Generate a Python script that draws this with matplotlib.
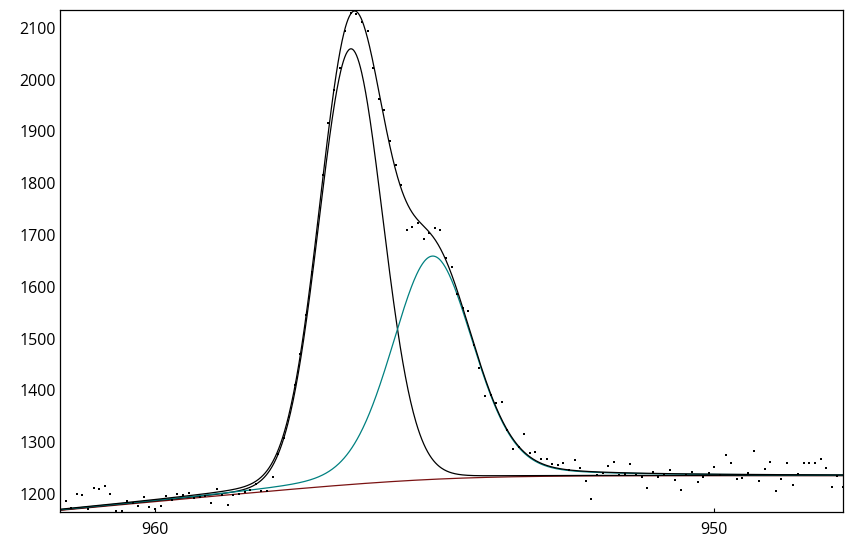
import numpy as np
import matplotlib
matplotlib.use("Agg")
import matplotlib.pyplot as plt

# measured points (binding energy grid, 0.1 eV step, counts)
binding_energy = np.linspace(961.7, 947.7, 141)
counts = [
    1172, 1186, 1173, 1201, 1199, 1172, 1212, 1210, 1216, 1201,
    1167, 1168, 1187, 1183, 1177, 1195, 1175, 1171, 1177, 1196,
    1189, 1200, 1199, 1202, 1192, 1195, 1196, 1183, 1210, 1199,
    1179, 1199, 1200, 1204, 1207, 1219, 1205, 1205, 1232, 1277,
    1309, 1349, 1410, 1470, 1545, 1628, 1703, 1815, 1917, 1979,
    2023, 2094, 2129, 2127, 2112, 2093, 2023, 1963, 1941, 1882,
    1836, 1797, 1709, 1716, 1724, 1693, 1704, 1714, 1709, 1655,
    1639, 1587, 1560, 1553, 1488, 1443, 1390, 1392, 1376, 1378,
    1324, 1287, 1291, 1315, 1280, 1282, 1268, 1268, 1258, 1256,
    1260, 1246, 1266, 1251, 1226, 1191, 1237, 1240, 1254, 1262,
    1236, 1238, 1257, 1237, 1232, 1212, 1243, 1232, 1237, 1246,
    1227, 1208, 1237, 1243, 1224, 1232, 1240, 1252, 1236, 1276,
    1259, 1229, 1231, 1241, 1283, 1225, 1249, 1262, 1206, 1229,
    1259, 1218, 1238, 1260, 1259, 1260, 1268, 1251, 1214, 1234,
    1214,
]

# fitted components: center (eV), height, FWHM (eV), lorentzian fraction
peak_centers = [956.5, 955.04]
peak_heights = [841, 431]
peak_fwhm = [1.35, 1.71]
peak_eta = [0.05, 0.2]
peak_colors = ["black", "#008080"]

# background: flat level on the right, slope and knee of the rise on the left
bg_level = 1235.5
bg_slope = 10.0
bg_knee = 955.0
bg_width = 1.0


def pseudo_voigt(x, c, h, fwhm, eta):
    t = ((x - c) / fwhm) ** 2
    g = np.exp(-4 * np.log(2) * t)
    l = 1 / (1 + 4 * t)
    return h * ((1 - eta) * g + eta * l)


def background(x):
    return bg_level - bg_slope * bg_width * np.logaddexp(0, (x - bg_knee) / bg_width)


plt.rcParams['font.family'] = ['Open Sans', 'DejaVu Sans']
fig = plt.figure(figsize=(8.53, 5.40), dpi=100)
ax = fig.add_axes([60 / 853, 28 / 540, 783 / 853, 502 / 540])

x = np.linspace(961.7, 947.7, 1200)
bg = background(x)
peaks = [pseudo_voigt(x, c, h, w, e) for c, h, w, e in
         zip(peak_centers, peak_heights, peak_fwhm, peak_eta)]

ax.plot(x, bg, color="#7a1212", lw=0.9)
for p, col in zip(peaks, peak_colors):
    ax.plot(x, bg + p, color=col, lw=0.9)
ax.plot(x, bg + sum(peaks), color="black", lw=0.9)

ax.plot(binding_energy, counts, 's', color="black", markersize=2.1, markeredgewidth=0)

ax.set_xlim(961.7, 947.7)
ax.set_ylim(1165.3, 2134.4)
ax.set_xticks([960, 950])
ax.set_yticks(np.arange(1200, 2101, 100))
ax.tick_params(axis='x', direction='in', length=3, pad=7, labelsize=11.5)
ax.tick_params(axis='y', length=0, pad=3, labelsize=11.5)
for s in ax.spines.values():
    s.set_linewidth(0.9)

fig.savefig("out.png", dpi=100)
